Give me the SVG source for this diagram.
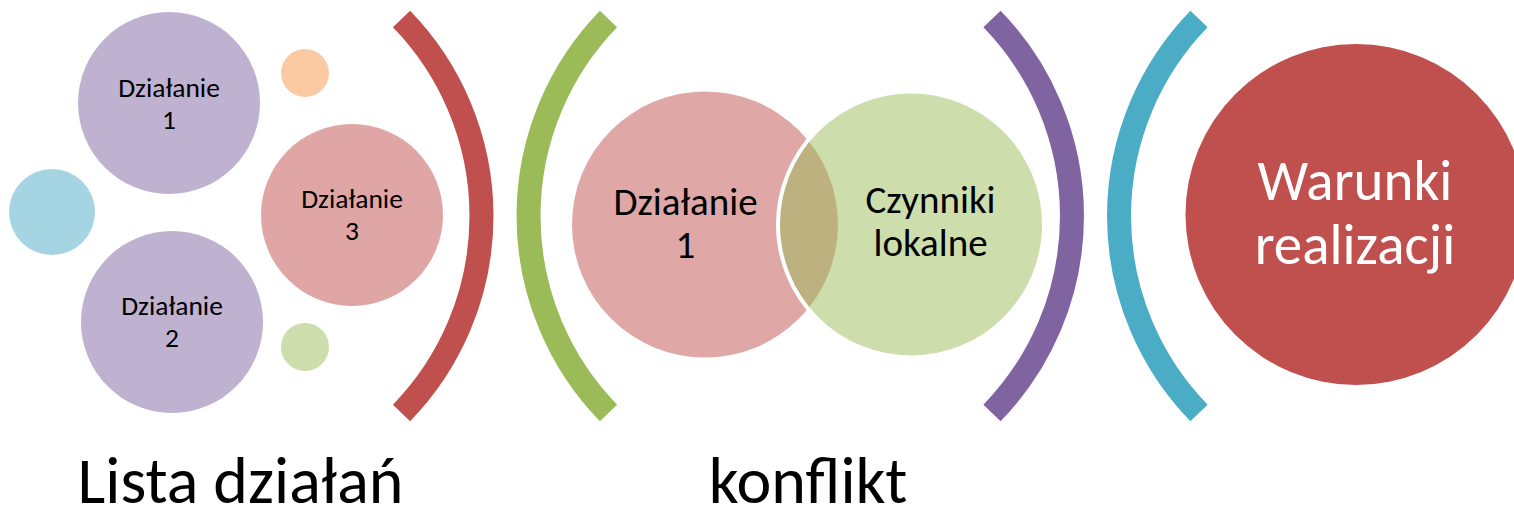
<svg xmlns="http://www.w3.org/2000/svg" width="1514" height="518" viewBox="0 0 1514 518">
<style>
text{font-family:Carlito,Calibri,Lato,"Noto Sans",sans-serif;text-anchor:middle;fill:#000}
.s{font-size:27.5px}
.m{font-size:39px}
.l{font-size:57px;fill:#fff}
.b{font-size:66px}
.br{fill:none;stroke-width:24;stroke-linecap:butt}
</style>
<rect width="1514" height="518" fill="#fff"/>
<g id="lista">
  <g id="dzialanie1">
    <circle cx="169" cy="103" r="91" fill="#BFB1D0"/>
    <text class="s" x="169" y="96.5">Działanie<tspan x="169" dy="32">1</tspan></text>
  </g>
  <g id="dzialanie2">
    <circle cx="172" cy="322" r="91" fill="#BFB1D0"/>
    <text class="s" x="172" y="315">Działanie<tspan x="172" dy="32">2</tspan></text>
  </g>
  <g id="dzialanie3">
    <circle cx="352" cy="215" r="91" fill="#E0A6A6"/>
    <text class="s" x="352" y="207.5">Działanie<tspan x="352" dy="32">3</tspan></text>
  </g>
  <g id="dot-blue"><circle cx="52" cy="212" r="43" fill="#A5D5E2"/></g>
  <g id="dot-orange"><circle cx="305" cy="73" r="24" fill="#FBCAA2"/></g>
  <g id="dot-green"><circle cx="305" cy="347" r="24" fill="#CDDDAC"/></g>
</g>
<g id="brackets">
  <path id="br-red" class="br" stroke="#C0504D" d="M401.5 19 A282.6 282.6 0 0 1 401.5 413"/>
  <path id="br-green" class="br" stroke="#9BBB59" d="M608.5 19 A282.6 282.6 0 0 0 608.5 413"/>
  <path id="br-purple" class="br" stroke="#8064A2" d="M992 19 A282.6 282.6 0 0 1 992 413"/>
  <path id="br-blue" class="br" stroke="#4BACC6" d="M1199 19 A282.6 282.6 0 0 0 1199 413"/>
</g>
<g id="konflikt">
  <g id="venn-dzialanie1">
    <circle cx="705" cy="224.5" r="133" fill="#C0504D" fill-opacity="0.5"/>
  </g>
  <g id="venn-czynniki">
    <circle cx="911" cy="224.5" r="133" fill="#9BBB59" fill-opacity="0.5" stroke="#fff" stroke-width="4"/>
  </g>
  <text class="m" x="685.5" y="215">Działanie<tspan x="685.5" dy="43">1</tspan></text>
  <text class="m" x="930.5" y="213">Czynniki<tspan x="930.5" dy="43">lokalne</tspan></text>
</g>
<g id="warunki">
  <circle cx="1356" cy="214.5" r="170.5" fill="#C0504D"/>
  <text class="l" x="1355" y="200">Warunki<tspan x="1355" dy="64">realizacji</tspan></text>
</g>
<g id="labels">
  <text class="b" x="240.5" y="503">Lista działań</text>
  <text class="b" x="808" y="503">konflikt</text>
</g>
</svg>
